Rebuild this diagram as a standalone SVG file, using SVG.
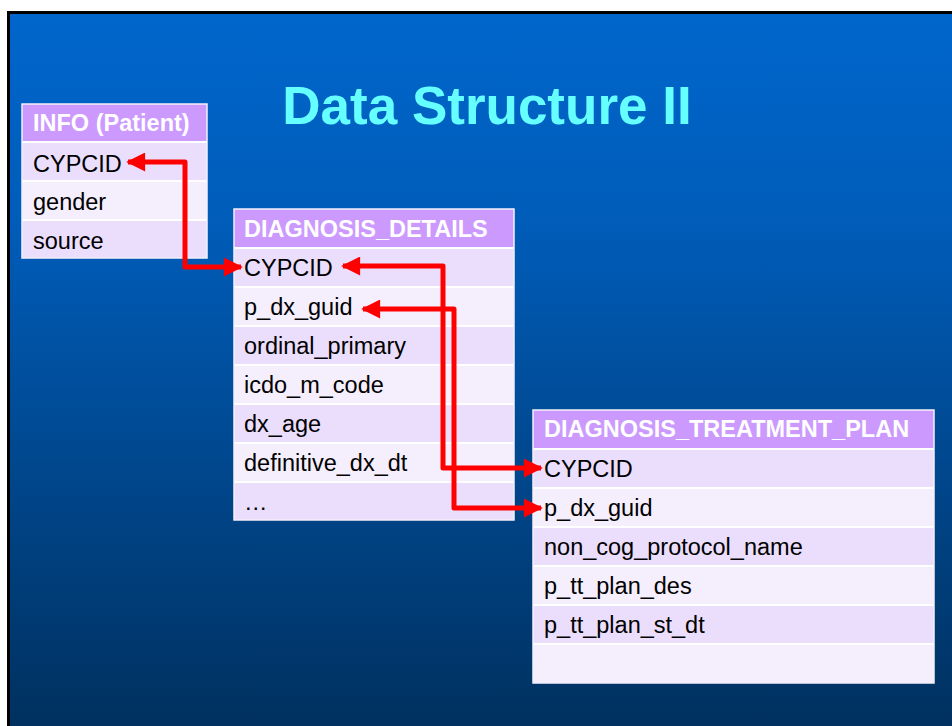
<svg xmlns="http://www.w3.org/2000/svg" width="952" height="726" viewBox="0 0 952 726">
  <defs>
    <linearGradient id="bg" x1="0" y1="0" x2="0" y2="1">
      <stop offset="0" stop-color="#0066CC"/>
      <stop offset="0.3" stop-color="#005CB8"/>
      <stop offset="1" stop-color="#00305E"/>
    </linearGradient>
    <marker id="arrow" viewBox="0 0 10 10" refX="9" refY="5" markerWidth="4" markerHeight="3.8" orient="auto-start-reverse" markerUnits="strokeWidth">
      <path d="M0,0 L10,5 L0,10 z" fill="#FF0000"/>
    </marker>
    <style>
      .hdr { fill: #CC99FF; }
      .rowA { fill: #EBDEFC; }
      .rowB { fill: #F5EFFD; }
      .frame { fill: none; stroke: #F4F0FA; stroke-width: 1.5; }
      .sep { stroke: #FFFFFF; stroke-width: 2; }
      .htxt { font-family: "Liberation Sans", Arial, sans-serif; font-weight: bold; font-size: 23.5px; fill: #FFFFFF; }
      .ftxt { font-family: "Liberation Sans", Arial, sans-serif; font-size: 23.5px; fill: #000000; }
      .title { font-family: "Liberation Sans", Arial, sans-serif; font-weight: bold; font-size: 53px; fill: #66FFFF; }
      .link { fill: none; stroke: #FF0000; stroke-width: 5; stroke-linejoin: round; marker-start: url(#arrow); marker-end: url(#arrow); }
    </style>
  </defs>

  <!-- slide background with frame -->
  <rect x="0" y="0" width="952" height="726" fill="#FFFFFF"/>
  <rect x="8.5" y="12.5" width="950" height="720" fill="url(#bg)" stroke="#000000" stroke-width="3"/>

  <text class="title" x="487" y="124" text-anchor="middle">Data Structure II</text>

  <!-- INFO (Patient) -->
  <g id="info">
    <rect class="hdr" x="22" y="104" width="185" height="38"/>
    <rect class="rowA" x="22" y="142" width="185" height="39"/>
    <rect class="rowB" x="22" y="181" width="185" height="39"/>
    <rect class="rowA" x="22" y="220" width="185" height="38"/>
    <line class="sep" x1="22" y1="142" x2="207" y2="142"/>
    <line class="sep" x1="22" y1="181" x2="207" y2="181"/>
    <line class="sep" x1="22" y1="220" x2="207" y2="220"/>
    <rect class="frame" x="22" y="104" width="185" height="154"/>
    <text class="htxt" x="33" y="131">INFO (Patient)</text>
    <text class="ftxt" x="33" y="172">CYPCID</text>
    <text class="ftxt" x="33" y="210">gender</text>
    <text class="ftxt" x="33" y="249">source</text>
  </g>

  <!-- DIAGNOSIS_DETAILS -->
  <g id="diagnosis-details">
    <rect class="hdr" x="234" y="209" width="280" height="39"/>
    <rect class="rowA" x="234" y="248" width="280" height="39"/>
    <rect class="rowB" x="234" y="287" width="280" height="39"/>
    <rect class="rowA" x="234" y="326" width="280" height="39"/>
    <rect class="rowB" x="234" y="365" width="280" height="39"/>
    <rect class="rowA" x="234" y="404" width="280" height="39"/>
    <rect class="rowB" x="234" y="443" width="280" height="39"/>
    <rect class="rowA" x="234" y="482" width="280" height="38"/>
    <line class="sep" x1="234" y1="248" x2="514" y2="248"/>
    <line class="sep" x1="234" y1="287" x2="514" y2="287"/>
    <line class="sep" x1="234" y1="326" x2="514" y2="326"/>
    <line class="sep" x1="234" y1="365" x2="514" y2="365"/>
    <line class="sep" x1="234" y1="404" x2="514" y2="404"/>
    <line class="sep" x1="234" y1="443" x2="514" y2="443"/>
    <line class="sep" x1="234" y1="482" x2="514" y2="482"/>
    <rect class="frame" x="234" y="209" width="280" height="311"/>
    <text class="htxt" x="244" y="237">DIAGNOSIS_DETAILS</text>
    <text class="ftxt" x="244" y="276">CYPCID</text>
    <text class="ftxt" x="244" y="315">p_dx_guid</text>
    <text class="ftxt" x="244" y="354">ordinal_primary</text>
    <text class="ftxt" x="244" y="393">icdo_m_code</text>
    <text class="ftxt" x="244" y="432">dx_age</text>
    <text class="ftxt" x="244" y="471">definitive_dx_dt</text>
    <text class="ftxt" x="244" y="510">…</text>
  </g>

  <!-- DIAGNOSIS_TREATMENT_PLAN -->
  <g id="diagnosis-treatment-plan">
    <rect class="hdr" x="533" y="410" width="401" height="39"/>
    <rect class="rowA" x="533" y="449" width="401" height="39"/>
    <rect class="rowB" x="533" y="488" width="401" height="39"/>
    <rect class="rowA" x="533" y="527" width="401" height="39"/>
    <rect class="rowB" x="533" y="566" width="401" height="39"/>
    <rect class="rowA" x="533" y="605" width="401" height="39"/>
    <rect class="rowB" x="533" y="644" width="401" height="39"/>
    <line class="sep" x1="533" y1="449" x2="934" y2="449"/>
    <line class="sep" x1="533" y1="488" x2="934" y2="488"/>
    <line class="sep" x1="533" y1="527" x2="934" y2="527"/>
    <line class="sep" x1="533" y1="566" x2="934" y2="566"/>
    <line class="sep" x1="533" y1="605" x2="934" y2="605"/>
    <line class="sep" x1="533" y1="644" x2="934" y2="644"/>
    <rect class="frame" x="533" y="410" width="401" height="273"/>
    <text class="htxt" x="544" y="437">DIAGNOSIS_TREATMENT_PLAN</text>
    <text class="ftxt" x="544" y="477">CYPCID</text>
    <text class="ftxt" x="544" y="516">p_dx_guid</text>
    <text class="ftxt" x="544" y="555">non_cog_protocol_name</text>
    <text class="ftxt" x="544" y="594">p_tt_plan_des</text>
    <text class="ftxt" x="544" y="633">p_tt_plan_st_dt</text>
  </g>

  <!-- key links -->
  <g id="connectors">
    <path class="link" d="M128,162 H185 V267 H241"/>
    <path class="link" d="M343,266 H443 V468 H541"/>
    <path class="link" d="M363,309 H454 V508 H541"/>
  </g>
</svg>
